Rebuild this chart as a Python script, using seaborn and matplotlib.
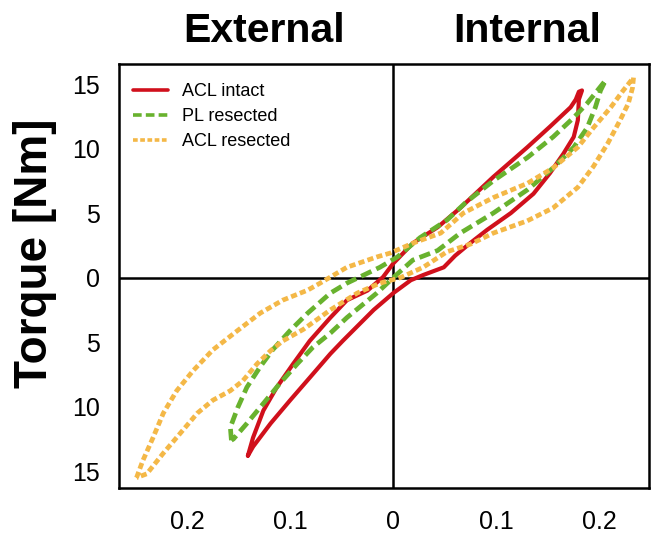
import numpy as np
import pandas as pd
import matplotlib
matplotlib.use("Agg")
import matplotlib.pyplot as plt
import seaborn as sns

sns.set_style("white")
plt.rcParams['font.family'] = ['Liberation Sans', 'DejaVu Sans']
plt.rcParams['text.color'] = 'black'
plt.rcParams['xtick.color'] = 'black'
plt.rcParams['ytick.color'] = 'black'

# Loops: bottom tip -> upper branch -> top tip -> lower branch -> bottom tip
acl_intact_x = [-0.141, -0.136, -0.126, -0.113, -0.097, -0.081, -0.061, -0.045, -0.025, -0.010,
                0.0, 0.019, 0.043, 0.065, 0.097, 0.130, 0.152, 0.172, 0.177, 0.180, 0.183,
                0.180, 0.179, 0.175, 0.165, 0.152, 0.136, 0.114, 0.091, 0.075, 0.060, 0.049,
                0.029, 0.017, 0.0, -0.019, -0.049, -0.061, -0.081, -0.100, -0.119, -0.136, -0.141]
acl_intact_y = [-13.8, -12.4, -10.3, -8.5, -6.67, -4.9, -3.1, -1.75, -1.0, 0.04,
                1.1, 2.67, 3.9, 5.4, 7.8, 10.1, 11.7, 13.2, 13.8, 14.4, 14.5,
                13.8, 12.2, 10.9, 9.6, 8.1, 6.5, 5.0, 3.7, 2.7, 1.7, 0.8,
                0.2, -0.2, -1.2, -2.5, -4.9, -5.9, -7.75, -9.5, -11.3, -13.1, -13.8]

pl_resected_x = [-0.157, -0.158, -0.151, -0.142, -0.129, -0.117, -0.100, -0.083, -0.061, -0.045,
                 -0.013, 0.004, 0.026, 0.052, 0.070, 0.097, 0.130, 0.155, 0.175, 0.188, 0.198, 0.206,
                 0.201, 0.196, 0.188, 0.175, 0.155, 0.130, 0.097, 0.065, 0.043, 0.019,
                 0.0, -0.016, -0.045, -0.061, -0.078, -0.093, -0.110, -0.126, -0.142, -0.155, -0.157]
pl_resected_y = [-12.6, -11.6, -10.1, -8.5, -6.9, -5.6, -4.1, -2.75, -1.2, -0.43,
                 0.8, 1.6, 3.1, 4.45, 5.8, 7.5, 9.3, 10.9, 12.4, 13.5, 14.5, 15.3,
                 14.5, 13.2, 11.6, 10.1, 8.5, 6.8, 5.0, 3.45, 2.1, 1.36,
                 0.0, -1.2, -3.1, -4.3, -5.4, -6.67, -8.2, -9.75, -11.3, -12.5, -12.6]

acl_resected_x = [-0.249, -0.243, -0.233, -0.223, -0.210, -0.194, -0.175, -0.151, -0.129, -0.107,
                  -0.083, -0.071, -0.045, -0.016, -0.003, 0.019, 0.046, 0.068, 0.097, 0.130,
                  0.155, 0.179, 0.194, 0.211, 0.223, 0.233,
                  0.232, 0.228, 0.220, 0.208, 0.194, 0.179, 0.155, 0.130, 0.097, 0.075,
                  0.052, 0.029, 0.007, -0.013, -0.035, -0.061, -0.087, -0.107, -0.119, -0.132,
                  -0.146, -0.158, -0.175, -0.190, -0.207, -0.223, -0.239, -0.249]
acl_resected_y = [-15.5, -14.2, -12.4, -10.5, -8.76, -7.2, -5.6, -4.1, -2.75, -1.74,
                  -0.97, -0.43, 0.8, 1.6, 1.9, 2.67, 3.45, 5.0, 6.2, 7.3,
                  8.5, 10.1, 11.6, 13.2, 14.5, 15.5,
                  14.7, 13.5, 12.2, 10.4, 8.6, 7.0, 5.4, 4.4, 3.45, 2.6,
                  2.0, 0.8, 0.0, -0.43, -1.2, -2.5, -4.0, -4.9, -5.66, -6.67,
                  -8.0, -8.76, -9.5, -10.5, -12.1, -13.6, -15.2, -15.5]

series_names = ["ACL intact", "PL resected", "ACL resected"]
colors = ["#d0101c", "#68b22e", "#f4b847"]
styles = ["-", (0, (2.4, 1.15)), (0, (1.3, 0.7))]
widths = [3.0, 3.4, 3.4]

x_ticks = [-0.2, -0.1, 0, 0.1, 0.2]
x_tick_labels = ["0.2", "0.1", "0", "0.1", "0.2"]
y_ticks = [-15, -10, -5, 0, 5, 10, 15]
y_tick_labels = ["15", "10", "5", "0", "5", "10", "15"]

fig = plt.figure(figsize=(6.51, 5.36), dpi=100)
ax = fig.add_axes([119/651, 1 - 488/536, (649 - 119)/651, (488 - 64)/536])

data = [(acl_intact_x, acl_intact_y), (pl_resected_x, pl_resected_y), (acl_resected_x, acl_resected_y)]
for (xs, ys), name, c, ls, lw in zip(data, series_names, colors, styles, widths):
    df = pd.DataFrame({"x": xs, "y": ys})
    sns.lineplot(data=df, x="x", y="y", sort=False, estimator=None, ax=ax,
                 color=c, linestyle=ls, linewidth=lw, label=name)

ax.axhline(0, color="black", lw=1.8, zorder=1)
ax.axvline(0, color="black", lw=1.8, zorder=1)

ax.set_xlim(-0.266, 0.248)
ax.set_ylim(-16.3, 16.55)
ax.set_xticks(x_ticks)
ax.set_xticklabels(x_tick_labels)
ax.set_yticks(y_ticks)
ax.set_yticklabels(y_tick_labels)
ax.tick_params(axis="both", which="major", length=0, labelsize=18, colors="black")
ax.tick_params(axis="y", which="major", pad=14)
ax.tick_params(axis="x", which="major", pad=16)
ax.set_xticks([0], minor=True)
ax.set_yticks([0], minor=True)
ax.tick_params(which="minor", length=10, width=1.8, color="black")
ax.set_xlabel("")
ax.set_ylabel("")

for sp in ax.spines.values():
    sp.set_color("black")
    sp.set_linewidth(1.8)
    sp.set_visible(True)

leg = ax.legend(loc="upper left", bbox_to_anchor=(0.026, 0.955), frameon=False,
                borderpad=0, borderaxespad=0, fontsize=13, handlelength=1.95,
                handletextpad=0.75, labelspacing=0.45)
for line in leg.get_lines():
    line.set_linewidth(2.6)
for t in leg.get_texts():
    t.set_color("black")

fig.text(35/651, 1 - 253/536, "Torque [Nm]", rotation=90, fontsize=33, fontweight="bold",
         ha="center", va="center", color="black")
fig.text(264/651, 1 - 42/536, "External", fontsize=29.5, fontweight="bold", ha="center",
         va="baseline", color="black")
fig.text(527/651, 1 - 42/536, "Internal", fontsize=29.5, fontweight="bold", ha="center",
         va="baseline", color="black")

fig.savefig("out.png", dpi=100)
